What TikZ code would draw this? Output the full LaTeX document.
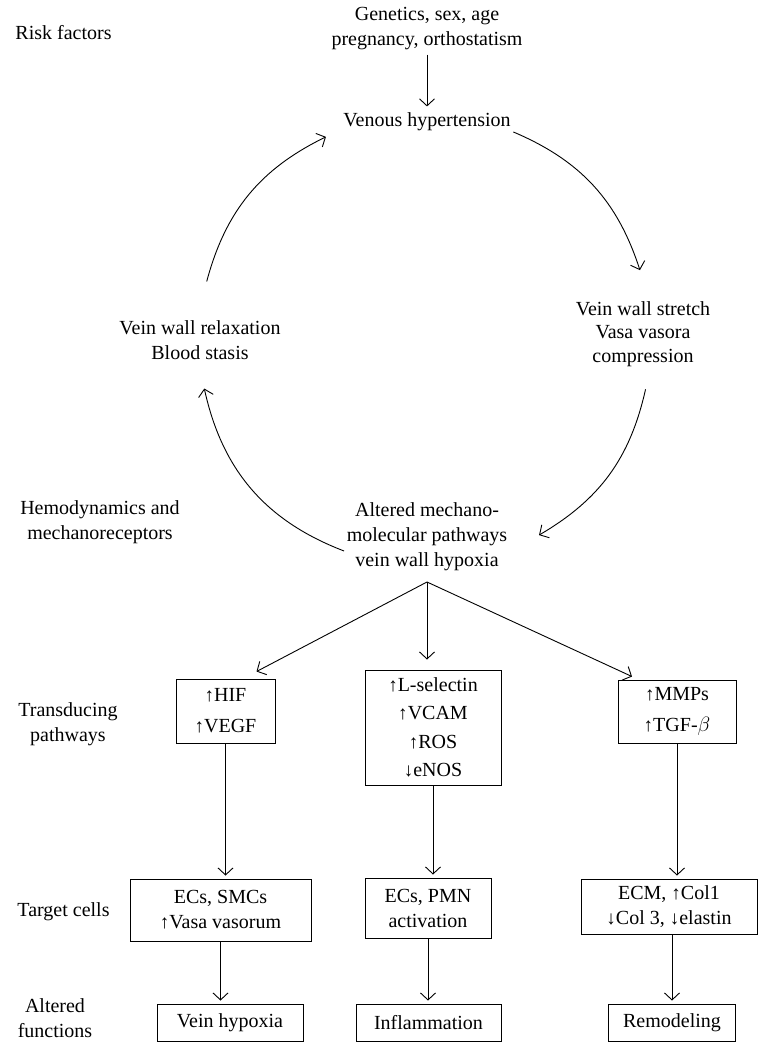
\documentclass[tikz,border=0pt]{standalone}
\usepackage{fontspec}
\setmainfont{Liberation Serif}
\usepackage{graphicx}
\usepackage{tikz}
\usetikzlibrary{arrows.meta,positioning,calc}
\tikzset{
  every picture/.append style={line width=0.9pt},
}
\newcommand{\uarr}{\scalebox{0.95}{↑}}
\newcommand{\darr}{\scalebox{0.95}{↓}}

\begin{document}
\begin{tikzpicture}[
  x=1pt, y=1pt,
  every node/.style={font=\fontsize{20}{25}\selectfont, inner sep=0pt},
  box/.style={
    rectangle,
    draw,
    align=center,
    inner sep=0pt
  },
  arrow/.style={->, >={Straight Barb[length=7pt,width=15pt]}, shorten >=3pt},
  txt/.style={align=center},
  rowlabel/.style={align=center}
]
\useasboundingbox (0,0) rectangle (759,1044);

% --- Row labels (left column) ---
\node[anchor=west] (risk) at (15,1011) {Risk factors};
\node[rowlabel] (hemo) at (100,522) {Hemodynamics and\\mechanoreceptors};
\node[rowlabel] (trans) at (68,320) {Transducing\\pathways};
\node[anchor=west] (target) at (17,132) {Target cells};
\node[rowlabel] (altfun) at (55,26) {Altered\\functions};

% --- Vicious cycle ---
\node[txt] (genetics) at (427,1015) {Genetics, sex, age\\pregnancy, orthostatism};
\node[txt] (venous) at (427,922) {Venous hypertension};
\node[txt] (stretch) at (643,710) {Vein wall stretch\\[-1.5pt]Vasa vasora\\[-1.5pt]compression};
\node[txt] (relax) at (200,704) {Vein wall relaxation\\Blood stasis};
\node[txt] (altered) at (427,507) {Altered mechano-\\molecular pathways\\vein wall hypoxia};

\draw[arrow, shorten <=4pt, shorten >=6pt] (genetics.south) -- (venous.north);

% cycle arcs lie on one circle
\coordinate (cyc) at (425,704);
\coordinate (ven-out) at ($(cyc)+(67:226)$);
\coordinate (str-in) at ($(cyc)+(18:226)$);
\coordinate (str-out) at ($(cyc)+(-12.6:226)$);
\coordinate (alt-in) at ($(cyc)+(-59.7:226)$);
\coordinate (alt-out) at ($(cyc)+(249:226)$);
\coordinate (rel-in) at ($(cyc)+(192.4:226)$);
\coordinate (rel-out) at ($(cyc)+(165:226)$);
\coordinate (ven-in) at ($(cyc)+(116:226)$);

\draw[arrow, shorten >=0pt] (ven-out) to[bend left=24.5] (str-in);
\draw[arrow, shorten >=0pt] (str-out) to[bend left=23.5] (alt-in);
\draw[arrow, shorten >=0pt] (alt-out) to[bend left=28.3] (rel-in);
\draw[arrow, shorten >=0pt] (rel-out) to[bend left=24.5] (ven-in);

% --- Transducing pathways ---
\node[box, minimum width=99pt, minimum height=64pt] (hif) at (225.5,333) {\uarr HIF\\[6pt]\uarr VEGF};
\node[box, minimum width=136pt, minimum height=115pt] (sel) at (433,316.5) {\uarr L-selectin\\[3.5pt]\uarr VCAM\\[3.5pt]\uarr ROS\\[3.5pt]\darr eNOS};
\node[box, minimum width=118pt, minimum height=63pt] (mmp) at (677,332.5) {\uarr MMPs\\[6pt]\uarr TGF-$\beta$};

\coordinate (fork) at (427,462);
\draw[arrow, shorten >=0pt] (fork) -- ([xshift=31pt,yshift=7pt]hif.north);
\draw[arrow, shorten >=10pt] (fork) -- (fork |- sel.north);
\draw[arrow, shorten >=0pt] (fork) -- ([xshift=-45pt,yshift=3pt]mmp.north);

% --- Target cells ---
\node[box, minimum width=181pt, minimum height=62pt] (ecs) at (220.5,134) {ECs, SMCs\\\uarr Vasa vasorum};
\node[box, minimum width=126pt, minimum height=60pt] (pmn) at (428,136) {ECs, PMN\\activation};
\node[box, minimum width=176pt, minimum height=55pt] (ecm) at (669,137.5) {ECM, \uarr Col1\\\darr Col 3, \darr elastin};

\draw[arrow] (hif.south) -- (hif.south |- ecs.north);
\draw[arrow] (sel.south) -- (sel.south |- pmn.north);
\draw[arrow] (mmp.south) -- (mmp.south |- ecm.north);

% --- Altered functions ---
\node[box, minimum width=146pt, minimum height=37pt] (hyp) at (230,21.5) {Vein hypoxia};
\node[box, minimum width=145pt, minimum height=37pt] (infl) at (428.5,21.5) {Inflammation};
\node[box, minimum width=127pt, minimum height=37pt] (remod) at (672,21.5) {Remodeling};

\draw[arrow] (ecs.south) -- (ecs.south |- hyp.north);
\draw[arrow] (pmn.south) -- (pmn.south |- infl.north);
\draw[arrow] (remod.north |- ecm.south) -- (remod.north);

\end{tikzpicture}
\end{document}
